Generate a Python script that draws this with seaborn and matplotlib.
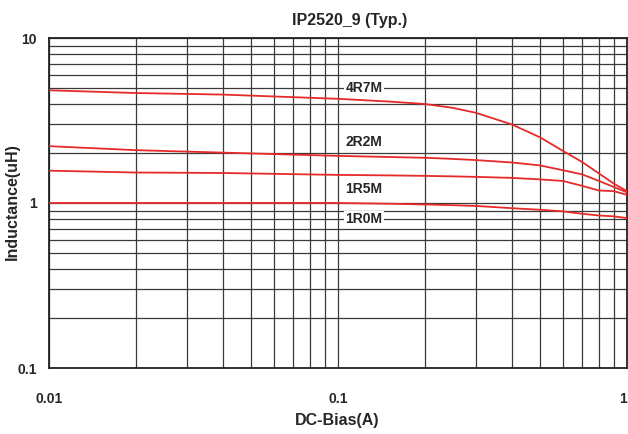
import numpy as np
import pandas as pd
import seaborn as sns
import matplotlib
matplotlib.use("Agg")
import matplotlib.pyplot as plt

bias = [0.01, 0.02, 0.04, 0.1, 0.15, 0.2, 0.25, 0.3, 0.4, 0.5, 0.6, 0.7, 0.8, 0.9, 1.0]

# inductance (uH) per part
l_4r7m = [4.82, 4.64, 4.54, 4.28, 4.12, 3.98, 3.77, 3.52, 2.99, 2.50, 2.07, 1.77, 1.51, 1.31, 1.18]
l_2r2m = [2.21, 2.09, 2.02, 1.93, 1.90, 1.88, 1.85, 1.82, 1.76, 1.69, 1.58, 1.49, 1.36, 1.25, 1.16]
l_1r5m = [1.57, 1.53, 1.52, 1.48, 1.47, 1.46, 1.45, 1.44, 1.42, 1.39, 1.36, 1.27, 1.19, 1.18, 1.12]
l_1r0m = [1.00, 1.00, 1.00, 1.00, 0.99, 0.98, 0.97, 0.96, 0.93, 0.91, 0.89, 0.86, 0.84, 0.83, 0.81]

parts = ["4R7M", "2R2M", "1R5M", "1R0M"]
label_y = [5.0, 2.33, 1.21, 0.80]
label_x = 0.106

df = pd.DataFrame({
    "bias": bias * 4,
    "L": l_4r7m + l_2r2m + l_1r5m + l_1r0m,
    "part": [p for p in parts for _ in bias],
})

sns.set_style("white")
plt.rcParams["font.family"] = ["Liberation Sans", "DejaVu Sans"]
plt.rcParams["font.weight"] = "bold"

fig = plt.figure(figsize=(6.28, 4.34), dpi=100)
ax = fig.add_axes([49 / 628, 66 / 434, 578 / 628, 330 / 434])

red = "#e62a2a"
sns.lineplot(data=df, x="bias", y="L", hue="part", palette=[red] * 4,
             linewidth=1.3, legend=False, ax=ax, zorder=3)

ax.set_xscale("log")
ax.set_yscale("log")
ax.set_xlim(0.01, 1)
ax.set_ylim(0.1, 10)

ax.set_xticks([0.01, 0.1, 1], ["0.01", "0.1", "1"])
ax.set_yticks([0.1, 1, 10], ["0.1", "1", "10"])
minor = [m * d for d in (0.01, 0.1) for m in range(2, 10)]
ax.set_xticks(minor, minor=True)
ax.set_xticklabels([], minor=True)
ax.set_yticks([m * d for d in (0.1, 1) for m in range(2, 10)], minor=True)
ax.set_yticklabels([], minor=True)
ax.tick_params(which="both", length=0)
ax.tick_params(axis="x", pad=17, labelsize=10)
ax.tick_params(axis="y", pad=9, labelsize=10)
for t in ax.get_xticklabels() + ax.get_yticklabels():
    t.set_fontweight("bold")
ax.get_xticklabels()[-1].set_horizontalalignment("right")

ax.grid(which="both", color="#3a3a3a", linewidth=0.9, zorder=1)
for s in ax.spines.values():
    s.set_color("#222222")
    s.set_linewidth(1.3)

for p, y in zip(parts, label_y):
    ax.text(label_x, y, p, fontsize=10, fontweight="bold", va="center", ha="left",
            zorder=4, bbox=dict(facecolor="white", edgecolor="none", pad=1.0))

ax.set_xlabel("")
ax.set_ylabel("")
fig.text(350 / 628, 1 - 20 / 434, "IP2520_9 (Typ.)", ha="center", va="center",
         fontsize=11.5, fontweight="bold")
fig.text(337 / 628, 1 - 421 / 434, "DC-Bias(A)", ha="center", va="center",
         fontsize=11.5, fontweight="bold")
fig.text(12 / 628, 1 - 202 / 434, "Inductance(uH)", ha="center", va="center",
         rotation=90, fontsize=11.5, fontweight="bold")

fig.savefig("out.png", dpi=100)
